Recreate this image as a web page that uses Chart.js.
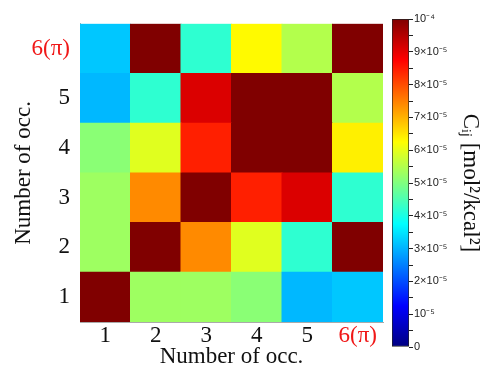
<!DOCTYPE html>
<html><head><meta charset="utf-8">
<script src="https://cdn.jsdelivr.net/npm/chart.js@4.4.0/dist/chart.umd.min.js"></script>
<style>
html,body{margin:0;padding:0;background:#fff;overflow:hidden}
#wrap{position:relative;width:497px;height:365px;background:#fff}
#main{position:absolute;left:0;top:0}
#cbar{position:absolute;left:385px;top:0}
</style></head><body>
<div id="wrap"><canvas id="main" width="390" height="365"></canvas><canvas id="cbar" width="112" height="365"></canvas></div>
<script>
// Categories (number of occupations), last one is the pi site
const categories = ['1', '2', '3', '4', '5', '6(π)'];
const rowLevels = [1, 2, 3, 4, 5, 6];
// C_ij values in mol^2/kcal^2, one array per row (row 1 = bottom)
const row1 = [1.0e-4, 5.3e-5, 5.3e-5, 5.1e-5, 3.05e-5, 3.2e-5];
const row2 = [5.3e-5, 1.0e-4, 7.4e-5, 5.95e-5, 4.2e-5, 1.0e-4];
const row3 = [5.3e-5, 7.4e-5, 1.0e-4, 8.45e-5, 9.1e-5, 4.2e-5];
const row4 = [5.1e-5, 5.95e-5, 8.45e-5, 1.0e-4, 1.0e-4, 6.4e-5];
const row5 = [3.05e-5, 4.2e-5, 9.1e-5, 1.0e-4, 1.0e-4, 5.5e-5];
const row6 = [3.2e-5, 1.0e-4, 4.2e-5, 6.3e-5, 5.5e-5, 1.0e-4];
const rows = [row1, row2, row3, row4, row5, row6];
// colour bar range and ticks
const cbMin = 0, cbMax = 1.0e-4;
const cbStep = 5e-6;

const SERIF = "'Liberation Serif', 'Times New Roman', serif";
const SANS = "'Liberation Sans', Arial, sans-serif";
const RED = '#f01818';

function clamp(x){ return Math.max(0, Math.min(1, x)); }
function jet(val){
  const v = clamp((val - cbMin) / (cbMax - cbMin));
  const r = clamp(1.5 - Math.abs(4*v - 3));
  const g = clamp(1.5 - Math.abs(4*v - 2));
  const b = clamp(1.5 - Math.abs(4*v - 1));
  return 'rgb(' + Math.round(r*255) + ',' + Math.round(g*255) + ',' + Math.round(b*255) + ')';
}

const datasets = rows.map((row, i) => ({
  data: row.map(() => [rowLevels[i] - 0.5, rowLevels[i] + 0.5]),
  backgroundColor: row.map(jet),
  borderWidth: 0,
  grouped: false,
  barPercentage: 1,
  categoryPercentage: 1,
  inflateAmount: 0.5
}));

new Chart(document.getElementById('main'), {
  type: 'bar',
  data: { labels: categories, datasets },
  options: {
    responsive: false, animation: false,
    layout: { padding: { left: 0, top: 19, right: 7, bottom: 0 } },
    plugins: { legend: { display: false }, tooltip: { enabled: false } },
    scales: {
      x: {
        grid: { display: false, drawTicks: false },
        border: { display: true, color: '#aaaaaa' },
        ticks: { font: { family: SERIF, size: 23 }, color: (c) => c.index === 5 ? RED : '#111', padding: 0, maxRotation: 0, autoSkip: false },
        title: { display: true, text: 'Number of occ.', color: '#111', font: { family: SERIF, size: 23, lineHeight: 1 }, padding: { top: 0, bottom: -3 } },
        afterFit: (s) => { s.height = 43; }
      },
      y: {
        type: 'linear', min: 0.5, max: 6.5,
        afterBuildTicks: (s) => { s.ticks = rowLevels.map(v => ({ value: v })); },
        grid: { display: false, drawTicks: false },
        border: { display: true, color: '#aaaaaa' },
        ticks: { font: { family: SERIF, size: 23 }, callback: (v) => categories[v - 1], color: (c) => c.tick.value === 6 ? RED : '#111', padding: 10, autoSkip: false },
        title: { display: true, text: 'Number of occ.', color: '#111', font: { family: SERIF, size: 23, lineHeight: 1 }, padding: { top: 12, bottom: 0 } },
        afterFit: (s) => { s.width = 80; }
      }
    }
  }
});

function cbLabel(v){
  const n = Math.round(v / 1e-5 * 2) / 2;
  if (n !== Math.round(n)) return '';
  if (n === 0) return '0';
  if (n === 1) return '10⁻⁵';
  if (n === 10) return '10⁻⁴';
  return n + '×10⁻⁵';
}

new Chart(document.getElementById('cbar'), {
  type: 'bar',
  data: { labels: [''], datasets: [{
    data: [[cbMin, cbMax]],
    backgroundColor: (ctx) => {
      const a = ctx.chart.chartArea;
      if (!a) return '#000';
      const g = ctx.chart.ctx.createLinearGradient(0, a.bottom, 0, a.top);
      [0, 0.125, 0.375, 0.625, 0.875, 1].forEach(t => g.addColorStop(t, jet(cbMin + t * (cbMax - cbMin))));
      return g;
    },
    borderColor: '#222', borderWidth: 1, borderSkipped: false,
    barPercentage: 1, categoryPercentage: 1
  }] },
  options: {
    responsive: false, animation: false,
    layout: { padding: { left: 7, top: 19, right: 0, bottom: 18 } },
    plugins: { legend: { display: false }, tooltip: { enabled: false } },
    scales: {
      x: { display: false },
      y: {
        position: 'right', min: cbMin, max: cbMax,
        afterBuildTicks: (s) => { const t = []; for (let k = 0; k <= 20; k++) t.push({ value: cbMin + k * cbStep }); s.ticks = t; },
        grid: { drawOnChartArea: false, drawTicks: true, tickLength: 4, color: '#222' },
        border: { display: false },
        ticks: { font: { family: SANS, size: 11 }, color: '#222', padding: 1, autoSkip: false, callback: cbLabel },
        title: { display: true, text: 'Cᵢⱼ [mol²/kcal²]', color: '#111', font: { family: SERIF, size: 23, lineHeight: 1 }, padding: { top: 15, bottom: 0 } },
        afterFit: (s) => { s.width = 88; }
      }
    }
  }
});
</script>
</body></html>
